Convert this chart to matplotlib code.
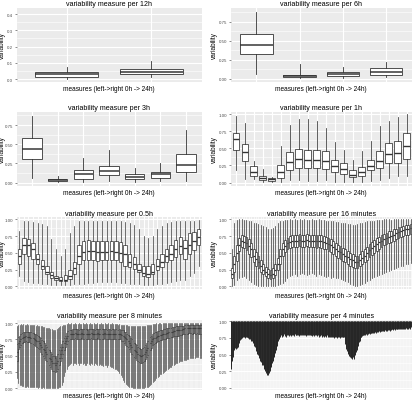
import matplotlib
matplotlib.use('Agg')
import matplotlib.pyplot as plt

plt.rcParams['font.family'] = ['Liberation Sans', 'DejaVu Sans']

# ---------------- data ----------------
# 12h
lo_12 = [0.00, 0.01]
q1_12 = [0.015, 0.03]
med_12 = [0.03, 0.045]
q3_12 = [0.045, 0.065]
hi_12 = [0.075, 0.11]

# 6h
lo_6 = [0.065, 0.01, 0.013, 0.03]
q1_6 = [0.323, 0.026, 0.043, 0.056]
med_6 = [0.44, 0.035, 0.065, 0.095]
q3_6 = [0.59, 0.052, 0.095, 0.138]
hi_6 = [0.884, 0.20, 0.16, 0.228]

# 3h
lo_3 = [0.057, 0.01, 0.01, 0.022, 0.01, 0.018, 0.018]
q1_3 = [0.305, 0.017, 0.052, 0.092, 0.044, 0.065, 0.14]
med_3 = [0.436, 0.03, 0.105, 0.153, 0.074, 0.105, 0.23]
q3_3 = [0.58, 0.048, 0.16, 0.22, 0.105, 0.144, 0.37]
hi_3 = [0.87, 0.08, 0.314, 0.43, 0.196, 0.253, 0.685]

# 1h
lo_1h = [0.19, 0.05, 0.05, 0.015, 0.015, 0.015, 0.04, 0.04, 0.03, 0.03,
         0.04, 0.015, 0.015, 0.015, 0.015, 0.03, 0.04, 0.06, 0.09, 0.10]
q1_1h = [0.47, 0.31, 0.10, 0.04, 0.03, 0.074, 0.18, 0.21, 0.21, 0.21,
         0.20, 0.16, 0.13, 0.08, 0.10, 0.18, 0.21, 0.28, 0.29, 0.34]
med_1h = [0.63, 0.44, 0.16, 0.06, 0.045, 0.16, 0.30, 0.34, 0.33, 0.33,
          0.31, 0.24, 0.20, 0.11, 0.16, 0.24, 0.31, 0.41, 0.43, 0.54]
q3_1h = [0.73, 0.57, 0.24, 0.09, 0.064, 0.25, 0.44, 0.49, 0.48, 0.47,
         0.46, 0.33, 0.28, 0.18, 0.23, 0.33, 0.46, 0.58, 0.61, 0.73]
hi_1h = [0.975, 0.87, 0.31, 0.20, 0.08, 0.53, 0.84, 0.93, 0.93, 0.90,
         0.80, 0.59, 0.48, 0.33, 0.46, 0.60, 0.83, 0.90, 0.95, 1.00]

# 0.5h
lo_05 = [0.15, 0.08, 0.06, 0.05, 0.05, 0.04, 0.03, 0.02, 0.02, 0.02,
         0.02, 0.02, 0.03, 0.04, 0.04, 0.05, 0.05, 0.06, 0.06, 0.07,
         0.06, 0.06, 0.05, 0.05, 0.04, 0.03, 0.03, 0.02, 0.02, 0.02,
         0.03, 0.04, 0.05, 0.06, 0.08, 0.10, 0.10, 0.15, 0.20, 0.30]
q1_05 = [0.34, 0.49, 0.46, 0.41, 0.34, 0.26, 0.19, 0.13, 0.10, 0.085,
         0.085, 0.11, 0.19, 0.34, 0.39, 0.40, 0.39, 0.38, 0.39, 0.40,
         0.39, 0.39, 0.36, 0.31, 0.29, 0.26, 0.21, 0.16, 0.14, 0.19,
         0.24, 0.29, 0.36, 0.39, 0.44, 0.49, 0.41, 0.49, 0.54, 0.61]
med_05 = [0.45, 0.61, 0.61, 0.56, 0.41, 0.30, 0.22, 0.17, 0.12, 0.10,
          0.10, 0.15, 0.27, 0.45, 0.51, 0.52, 0.52, 0.51, 0.51, 0.51,
          0.52, 0.51, 0.50, 0.49, 0.36, 0.34, 0.25, 0.20, 0.18, 0.21,
          0.30, 0.37, 0.45, 0.48, 0.55, 0.60, 0.57, 0.62, 0.68, 0.73]
q3_05 = [0.56, 0.72, 0.71, 0.64, 0.49, 0.39, 0.31, 0.21, 0.16, 0.14,
         0.17, 0.24, 0.36, 0.61, 0.68, 0.69, 0.68, 0.68, 0.67, 0.68,
         0.67, 0.68, 0.66, 0.61, 0.49, 0.44, 0.34, 0.31, 0.31, 0.34,
         0.41, 0.49, 0.56, 0.61, 0.69, 0.74, 0.69, 0.79, 0.81, 0.86]
hi_05 = [0.82, 0.97, 0.97, 0.96, 0.95, 0.93, 0.90, 0.70, 0.55, 0.45,
         0.55, 0.80, 0.90, 0.97, 0.98, 0.97, 0.98, 0.97, 0.98, 0.97,
         0.98, 0.97, 0.97, 0.96, 0.95, 0.92, 0.85, 0.75, 0.72, 0.75,
         0.85, 0.90, 0.95, 0.96, 0.97, 0.98, 0.97, 0.98, 0.98, 0.99]

# 16 minutes
lo_16 = [0.00, 0.02, 0.10, 0.12, 0.14, 0.15, 0.13, 0.10, 0.06, 0.03,
         0.02, 0.01, 0.01, 0.00, 0.00, 0.00, 0.00, 0.00, 0.01, 0.02,
         0.03, 0.05, 0.08, 0.12, 0.15, 0.17, 0.18, 0.16, 0.19, 0.20,
         0.18, 0.17, 0.19, 0.20, 0.18, 0.16, 0.18, 0.17, 0.15, 0.14,
         0.15, 0.13, 0.14, 0.12, 0.13, 0.11, 0.10, 0.08, 0.06, 0.04,
         0.02, 0.01, 0.01, 0.02, 0.03, 0.05, 0.08, 0.10, 0.12, 0.14,
         0.15, 0.17, 0.18, 0.20, 0.21, 0.23, 0.24, 0.26, 0.27, 0.29,
         0.30, 0.31, 0.33, 0.34, 0.35]
q1_16 = [0.12, 0.22, 0.38, 0.52, 0.58, 0.57, 0.54, 0.49, 0.44, 0.36,
         0.31, 0.27, 0.22, 0.18, 0.15, 0.12, 0.11, 0.13, 0.17, 0.24,
         0.34, 0.45, 0.51, 0.55, 0.57, 0.58, 0.59, 0.58, 0.60, 0.58,
         0.59, 0.60, 0.58, 0.59, 0.58, 0.57, 0.59, 0.57, 0.56, 0.55,
         0.53, 0.51, 0.49, 0.46, 0.43, 0.41, 0.38, 0.36, 0.34, 0.31,
         0.29, 0.28, 0.28, 0.30, 0.33, 0.36, 0.40, 0.44, 0.47, 0.50,
         0.53, 0.56, 0.58, 0.61, 0.63, 0.65, 0.66, 0.68, 0.70, 0.72,
         0.73, 0.75, 0.76, 0.77, 0.78]
med_16 = [0.19, 0.34, 0.50, 0.62, 0.68, 0.66, 0.64, 0.60, 0.55, 0.46,
          0.41, 0.36, 0.30, 0.25, 0.21, 0.18, 0.17, 0.19, 0.24, 0.33,
          0.45, 0.55, 0.60, 0.64, 0.66, 0.67, 0.68, 0.68, 0.69, 0.68,
          0.68, 0.69, 0.68, 0.68, 0.68, 0.67, 0.68, 0.67, 0.66, 0.65,
          0.63, 0.61, 0.59, 0.56, 0.53, 0.51, 0.48, 0.46, 0.44, 0.41,
          0.39, 0.37, 0.37, 0.40, 0.43, 0.46, 0.50, 0.54, 0.57, 0.60,
          0.63, 0.66, 0.68, 0.70, 0.72, 0.74, 0.75, 0.77, 0.79, 0.81,
          0.82, 0.84, 0.85, 0.86, 0.87]
q3_16 = [0.28, 0.46, 0.62, 0.72, 0.77, 0.75, 0.73, 0.70, 0.65, 0.56,
         0.51, 0.45, 0.39, 0.33, 0.29, 0.26, 0.25, 0.27, 0.33, 0.43,
         0.55, 0.64, 0.69, 0.72, 0.75, 0.76, 0.77, 0.77, 0.78, 0.77,
         0.77, 0.78, 0.77, 0.77, 0.77, 0.76, 0.77, 0.76, 0.75, 0.74,
         0.72, 0.70, 0.68, 0.65, 0.62, 0.60, 0.57, 0.55, 0.53, 0.50,
         0.48, 0.46, 0.46, 0.49, 0.52, 0.55, 0.59, 0.63, 0.66, 0.69,
         0.72, 0.74, 0.76, 0.78, 0.80, 0.82, 0.83, 0.85, 0.86, 0.88,
         0.89, 0.90, 0.91, 0.92, 0.93]
hi_16 = [0.55, 0.95, 0.99, 1.00, 1.00, 0.99, 0.99, 0.98, 0.97, 0.95,
         0.94, 0.93, 0.92, 0.90, 0.88, 0.86, 0.85, 0.87, 0.90, 0.94,
         0.97, 0.98, 0.99, 0.99, 1.00, 0.99, 1.00, 0.99, 1.00, 0.99,
         1.00, 0.99, 0.99, 1.00, 0.99, 0.99, 1.00, 0.99, 0.99, 0.98,
         0.98, 0.97, 0.97, 0.96, 0.96, 0.95, 0.95, 0.94, 0.93, 0.93,
         0.92, 0.92, 0.93, 0.94, 0.95, 0.96, 0.97, 0.97, 0.98, 0.98,
         0.99, 0.99, 0.99, 1.00, 1.00, 1.00, 0.99, 1.00, 1.00, 1.00,
         1.00, 1.00, 1.00, 1.00, 1.00]

# 8 minutes
lo_8 = [0.15, 0.08, 0.05, 0.04, 0.03, 0.03, 0.02, 0.02, 0.03, 0.02,
        0.02, 0.02, 0.01, 0.02, 0.01, 0.01, 0.01, 0.00, 0.01, 0.00,
        0.00, 0.01, 0.00, 0.00, 0.00, 0.00, 0.00, 0.00, 0.00, 0.00,
        0.00, 0.00, 0.00, 0.00, 0.01, 0.02, 0.05, 0.10, 0.18, 0.25,
        0.30, 0.34, 0.36, 0.37, 0.38, 0.36, 0.38, 0.39, 0.37, 0.38,
        0.36, 0.38, 0.39, 0.37, 0.38, 0.36, 0.35, 0.38, 0.37, 0.36,
        0.38, 0.37, 0.36, 0.38, 0.37, 0.35, 0.36, 0.37, 0.35, 0.36,
        0.34, 0.36, 0.35, 0.33, 0.35, 0.34, 0.32, 0.33, 0.31, 0.30,
        0.30, 0.28, 0.26, 0.24, 0.20, 0.17, 0.13, 0.10, 0.06, 0.04,
        0.03, 0.02, 0.01, 0.01, 0.00, 0.00, 0.00, 0.00, 0.00, 0.00,
        0.00, 0.00, 0.00, 0.00, 0.01, 0.01, 0.02, 0.03, 0.05, 0.07,
        0.09, 0.11, 0.13, 0.15, 0.17, 0.19, 0.21, 0.22, 0.24, 0.25,
        0.27, 0.28, 0.29, 0.31, 0.32, 0.33, 0.35, 0.36, 0.37, 0.38,
        0.39, 0.40, 0.41, 0.42, 0.42, 0.43, 0.44, 0.44, 0.45, 0.45,
        0.46, 0.46, 0.47, 0.47, 0.47, 0.48, 0.48, 0.48, 0.47, 0.47]
q1_8 = [0.42, 0.60, 0.64, 0.67, 0.69, 0.71, 0.71, 0.72, 0.71, 0.71,
        0.71, 0.70, 0.69, 0.68, 0.67, 0.65, 0.64, 0.62, 0.60, 0.56,
        0.53, 0.50, 0.46, 0.43, 0.41, 0.38, 0.35, 0.33, 0.30, 0.27,
        0.26, 0.25, 0.27, 0.30, 0.35, 0.41, 0.46, 0.53, 0.58, 0.63,
        0.68, 0.72, 0.74, 0.75, 0.75, 0.76, 0.76, 0.77, 0.76, 0.76,
        0.75, 0.76, 0.77, 0.76, 0.76, 0.77, 0.76, 0.75, 0.76, 0.76,
        0.77, 0.76, 0.76, 0.75, 0.76, 0.77, 0.76, 0.76, 0.75, 0.76,
        0.76, 0.77, 0.76, 0.75, 0.76, 0.76, 0.75, 0.76, 0.76, 0.75,
        0.76, 0.75, 0.75, 0.76, 0.75, 0.73, 0.72, 0.70, 0.67, 0.65,
        0.63, 0.60, 0.56, 0.53, 0.51, 0.48, 0.46, 0.44, 0.42, 0.40,
        0.38, 0.39, 0.40, 0.42, 0.45, 0.48, 0.51, 0.55, 0.59, 0.62,
        0.66, 0.68, 0.69, 0.71, 0.72, 0.73, 0.74, 0.74, 0.75, 0.76,
        0.76, 0.77, 0.77, 0.78, 0.78, 0.79, 0.79, 0.80, 0.80, 0.81,
        0.81, 0.81, 0.82, 0.82, 0.83, 0.83, 0.84, 0.84, 0.84, 0.85,
        0.85, 0.85, 0.84, 0.85, 0.85, 0.84, 0.85, 0.84, 0.84, 0.84]
med_8 = [0.55, 0.70, 0.73, 0.75, 0.77, 0.79, 0.79, 0.80, 0.79, 0.79,
         0.79, 0.78, 0.78, 0.77, 0.76, 0.74, 0.73, 0.72, 0.70, 0.67,
         0.64, 0.61, 0.58, 0.55, 0.53, 0.50, 0.47, 0.45, 0.42, 0.39,
         0.38, 0.36, 0.38, 0.42, 0.47, 0.53, 0.58, 0.64, 0.69, 0.73,
         0.77, 0.81, 0.82, 0.83, 0.83, 0.84, 0.84, 0.85, 0.84, 0.84,
         0.83, 0.84, 0.85, 0.84, 0.84, 0.85, 0.84, 0.83, 0.84, 0.84,
         0.85, 0.84, 0.84, 0.83, 0.84, 0.85, 0.84, 0.84, 0.83, 0.84,
         0.84, 0.85, 0.84, 0.83, 0.84, 0.84, 0.83, 0.84, 0.84, 0.83,
         0.84, 0.83, 0.83, 0.84, 0.83, 0.82, 0.81, 0.79, 0.77, 0.75,
         0.73, 0.70, 0.67, 0.64, 0.62, 0.59, 0.57, 0.55, 0.53, 0.51,
         0.49, 0.50, 0.51, 0.53, 0.56, 0.59, 0.62, 0.65, 0.69, 0.72,
         0.75, 0.77, 0.78, 0.79, 0.80, 0.81, 0.82, 0.82, 0.83, 0.84,
         0.84, 0.85, 0.85, 0.86, 0.86, 0.87, 0.87, 0.88, 0.88, 0.89,
         0.89, 0.89, 0.90, 0.90, 0.91, 0.91, 0.92, 0.92, 0.92, 0.93,
         0.93, 0.93, 0.92, 0.93, 0.93, 0.92, 0.93, 0.92, 0.92, 0.92]
q3_8 = [0.68, 0.79, 0.81, 0.83, 0.85, 0.86, 0.86, 0.87, 0.86, 0.86,
        0.86, 0.86, 0.85, 0.85, 0.84, 0.83, 0.82, 0.81, 0.79, 0.77,
        0.74, 0.72, 0.69, 0.66, 0.64, 0.61, 0.58, 0.56, 0.53, 0.50,
        0.49, 0.47, 0.49, 0.53, 0.58, 0.64, 0.68, 0.73, 0.77, 0.81,
        0.85, 0.88, 0.89, 0.90, 0.90, 0.91, 0.91, 0.91, 0.91, 0.91,
        0.90, 0.91, 0.91, 0.91, 0.91, 0.91, 0.91, 0.90, 0.91, 0.91,
        0.91, 0.91, 0.91, 0.90, 0.91, 0.91, 0.91, 0.91, 0.90, 0.91,
        0.91, 0.91, 0.91, 0.90, 0.91, 0.91, 0.90, 0.91, 0.91, 0.90,
        0.91, 0.90, 0.90, 0.91, 0.90, 0.89, 0.89, 0.87, 0.86, 0.84,
        0.82, 0.80, 0.77, 0.75, 0.73, 0.70, 0.68, 0.66, 0.64, 0.62,
        0.60, 0.61, 0.62, 0.64, 0.67, 0.70, 0.73, 0.75, 0.79, 0.81,
        0.84, 0.85, 0.86, 0.87, 0.88, 0.88, 0.89, 0.89, 0.90, 0.91,
        0.91, 0.92, 0.92, 0.93, 0.93, 0.93, 0.94, 0.94, 0.94, 0.95,
        0.95, 0.95, 0.96, 0.96, 0.96, 0.96, 0.97, 0.97, 0.97, 0.97,
        0.97, 0.97, 0.97, 0.97, 0.97, 0.97, 0.97, 0.97, 0.97, 0.97]
hi_8 = [0.95, 0.98, 0.98, 0.99, 0.98, 0.99, 0.98, 0.98, 0.99, 0.98,
        0.98, 0.97, 0.98, 0.97, 0.97, 0.96, 0.97, 0.96, 0.96, 0.95,
        0.95, 0.94, 0.94, 0.93, 0.93, 0.92, 0.92, 0.91, 0.91, 0.90,
        0.90, 0.90, 0.91, 0.92, 0.94, 0.95, 0.96, 0.97, 0.98, 0.98,
        0.99, 1.00, 0.99, 0.99, 1.00, 0.99, 0.99, 1.00, 0.99, 0.99,
        1.00, 0.99, 0.99, 1.00, 0.99, 0.99, 1.00, 0.99, 0.99, 1.00,
        0.99, 0.99, 1.00, 0.99, 0.99, 1.00, 0.99, 0.99, 1.00, 0.99,
        0.99, 1.00, 0.99, 0.99, 1.00, 0.99, 0.99, 1.00, 0.99, 0.99,
        0.99, 0.99, 0.98, 0.99, 0.98, 0.98, 0.98, 0.97, 0.97, 0.97,
        0.96, 0.96, 0.96, 0.95, 0.95, 0.95, 0.95, 0.95, 0.95, 0.95,
        0.95, 0.95, 0.96, 0.96, 0.96, 0.97, 0.97, 0.98, 0.98, 0.98,
        0.99, 0.99, 0.99, 1.00, 0.99, 1.00, 1.00, 0.99, 1.00, 1.00,
        1.00, 1.00, 1.00, 1.00, 1.00, 1.00, 1.00, 1.00, 1.00, 1.00,
        1.00, 1.00, 1.00, 1.00, 1.00, 1.00, 1.00, 1.00, 1.00, 1.00,
        1.00, 1.00, 1.00, 1.00, 1.00, 1.00, 1.00, 1.00, 1.00, 1.00]

# 4 minutes: only the lower envelope of the (solid) whisker band is readable
lo_4 = [0.29, 0.33, 0.40, 0.47, 0.55, 0.58, 0.57, 0.60, 0.58, 0.61,
        0.60, 0.62, 0.65, 0.68, 0.70, 0.72, 0.74, 0.76, 0.75, 0.77,
        0.76, 0.78, 0.76, 0.77, 0.75, 0.76, 0.77, 0.76, 0.75, 0.76,
        0.74, 0.75, 0.73, 0.72, 0.71, 0.70, 0.69, 0.68, 0.66, 0.63,
        0.61, 0.58, 0.56, 0.53, 0.51, 0.49, 0.47, 0.45, 0.43, 0.41,
        0.39, 0.37, 0.35, 0.34, 0.31, 0.29, 0.27, 0.25, 0.23, 0.22,
        0.20, 0.19, 0.21, 0.23, 0.25, 0.28, 0.31, 0.34, 0.37, 0.40,
        0.43, 0.47, 0.50, 0.53, 0.57, 0.60, 0.63, 0.67, 0.70, 0.73,
        0.75, 0.77,
        0.78, 0.79, 0.77, 0.80, 0.78, 0.79, 0.81, 0.78, 0.80, 0.79,
        0.77, 0.80, 0.81, 0.79, 0.78, 0.80, 0.82, 0.79, 0.78, 0.80,
        0.81, 0.79, 0.80, 0.78, 0.81, 0.80, 0.79, 0.82, 0.80, 0.79,
        0.78, 0.80, 0.81, 0.79, 0.80, 0.82, 0.80, 0.79, 0.81, 0.80,
        0.79, 0.81, 0.80, 0.78, 0.80, 0.81, 0.79, 0.80, 0.82, 0.80,
        0.79, 0.80, 0.78, 0.81, 0.79, 0.80, 0.78, 0.79, 0.81, 0.79,
        0.78, 0.80, 0.79, 0.77, 0.79, 0.80, 0.78, 0.79, 0.77, 0.78,
        0.80, 0.78, 0.77, 0.79, 0.78, 0.76, 0.78, 0.79, 0.77, 0.78,
        0.76, 0.78, 0.77, 0.79, 0.77, 0.76, 0.78, 0.77, 0.75, 0.77,
        0.78, 0.76, 0.77, 0.75, 0.77, 0.78, 0.76, 0.77, 0.75, 0.76,
        0.77, 0.76, 0.78, 0.77, 0.76,
        0.76, 0.71, 0.66, 0.62, 0.59,
        0.56, 0.53, 0.51, 0.50, 0.48,
        0.47, 0.45, 0.46, 0.44, 0.45, 0.46, 0.44, 0.47,
        0.49, 0.51, 0.54, 0.57, 0.60,
        0.63, 0.66, 0.69, 0.71, 0.74,
        0.76, 0.77, 0.78, 0.79, 0.80,
        0.80, 0.81, 0.80, 0.82, 0.81, 0.80, 0.82, 0.81, 0.83, 0.82,
        0.81, 0.83, 0.82, 0.84, 0.83, 0.82, 0.84, 0.83, 0.85, 0.84,
        0.83, 0.85, 0.84, 0.85, 0.84, 0.86, 0.85, 0.84, 0.86, 0.85,
        0.86, 0.85, 0.87, 0.86, 0.85, 0.87, 0.86, 0.87, 0.86, 0.87,
        0.87, 0.88, 0.87, 0.86, 0.88, 0.87, 0.88, 0.89, 0.87, 0.88,
        0.89, 0.88, 0.87, 0.89, 0.88, 0.89, 0.90, 0.88, 0.89, 0.90,
        0.89, 0.88, 0.90, 0.89, 0.90, 0.89, 0.88, 0.90, 0.89, 0.90,
        0.91, 0.89, 0.90, 0.89, 0.91, 0.90, 0.89, 0.90, 0.91, 0.90]
top_4 = 1.00

titles = ["variability measure per 12h", "variability measure per 6h",
          "variability measure per 3h", "variability measure per 1h",
          "variability measure per 0.5h", "variability measure per 16 minutes",
          "variability measure per 8 minutes", "variability measure per 4 minutes"]
xlabel_text = "measures (left->right 0h -> 24h)"
ylabel_text = "variability"

# ---------------- layout ----------------
W, H = 419, 402
fig = plt.figure(figsize=(W / 100, H / 100), dpi=100)
fig.patch.set_facecolor('white')

cols = [(16.5, 201.5), (230.5, 412.0)]
ylabel_x = [5.5, 217.5]
rows = [(9, 83), (113, 187), (218, 290), (321, 391)]


def add_ax(r, c):
    l, rr = cols[c]
    t, b = rows[r]
    ax = fig.add_axes([l / W, 1 - b / H, (rr - l) / W, (b - t) / H])
    ax._col = c
    ax._row = r
    return ax


def style(ax, n, title, ylim, yticks, ylabels, vgrid_lw):
    ax.set_facecolor('#EBEBEB')
    for s in ax.spines.values():
        s.set_visible(False)
    ax.set_xlim(0.4, n + 0.6)
    ax.set_ylim(*ylim)
    ax.set_yticks(yticks)
    ax.set_yticklabels(ylabels)
    step = yticks[1] - yticks[0]
    minors = [t + step / 2 for t in yticks] + [yticks[0] - step / 2]
    minors = [m for m in minors if ylim[0] <= m <= ylim[1]]
    ax.set_yticks(minors, minor=True)
    ax.set_xticks(list(range(1, n + 1)))
    ax.set_xticklabels([])
    ax.set_axisbelow(True)
    ax.grid(which='major', axis='y', color='white', lw=0.8)
    ax.grid(which='minor', axis='y', color='white', lw=0.4)
    ax.grid(which='major', axis='x', color='white', lw=vgrid_lw)
    ax.tick_params(axis='x', length=0, pad=0)
    ax.tick_params(axis='y', which='major', length=1.5, width=0.4, color='#333333',
                   labelsize=3.2, labelcolor='#4D4D4D', pad=1)
    ax.tick_params(axis='y', which='minor', length=0)
    ax.set_title(title, fontsize=5.1, pad=1.8, color='black')
    ax.set_xlabel(xlabel_text, fontsize=4.7, labelpad=1.2 if ax._row == 3 else 2.5)
    ax.set_ylabel(ylabel_text, fontsize=4.7)
    c = ax._col
    l, rr = cols[c]
    ax.yaxis.set_label_coords((ylabel_x[c] - l) / (rr - l), 0.5)


def panel(ax, title, lo, q1, med, q3, hi, ylim, yticks, ylabels, lw, vgrid_lw):
    n = len(med)
    stats = [dict(whislo=a, q1=b, med=c, q3=d, whishi=e)
             for a, b, c, d, e in zip(lo, q1, med, q3, hi)]
    ax.bxp(stats, positions=list(range(1, n + 1)), widths=0.75,
           showfliers=False, showcaps=False, patch_artist=True,
           manage_ticks=False,
           boxprops=dict(facecolor='white', edgecolor='#333333', linewidth=lw),
           whiskerprops=dict(color='#333333', linewidth=lw),
           medianprops=dict(color='#333333', linewidth=lw * 1.8))
    style(ax, n, title, ylim, yticks, ylabels, vgrid_lw)


t01 = [0.0, 0.1, 0.2, 0.3, 0.4]
l01 = ['0.0', '0.1', '0.2', '0.3', '0.4']
t25 = [0.0, 0.25, 0.5, 0.75]
l25 = ['0.00', '0.25', '0.50', '0.75']
t100 = [0.0, 0.25, 0.5, 0.75, 1.0]
l100 = ['0.00', '0.25', '0.50', '0.75', '1.00']

panel(add_ax(0, 0), titles[0], lo_12, q1_12, med_12, q3_12, hi_12,
      (-0.018, 0.437), t01, l01, 0.6, 0.8)
panel(add_ax(0, 1), titles[1], lo_6, q1_6, med_6, q3_6, hi_6,
      (-0.04, 0.93), t25, l25, 0.6, 0.8)
panel(add_ax(1, 0), titles[2], lo_3, q1_3, med_3, q3_3, hi_3,
      (-0.045, 0.92), t25, l25, 0.6, 0.8)
panel(add_ax(1, 1), titles[3], lo_1h, q1_1h, med_1h, q3_1h, hi_1h,
      (-0.05, 1.03), t100, l100, 0.55, 0.8)
panel(add_ax(2, 0), titles[4], lo_05, q1_05, med_05, q3_05, hi_05,
      (-0.04, 1.035), t100, l100, 0.5, 0.7)
panel(add_ax(2, 1), titles[5], lo_16, q1_16, med_16, q3_16, hi_16,
      (-0.04, 1.035), t100, l100, 0.5, 0.5)
panel(add_ax(3, 0), titles[6], lo_8, q1_8, med_8, q3_8, hi_8,
      (-0.03, 1.05), t100, l100, 0.45, 0.3)

ax4 = add_ax(3, 1)
n4 = len(lo_4)
ax4.vlines(list(range(1, n4 + 1)), lo_4, top_4, color='#262626', lw=0.7)
style(ax4, n4, titles[7], (-0.03, 1.02), t100, l100, 0.3)

fig.savefig('out.png', dpi=100)
